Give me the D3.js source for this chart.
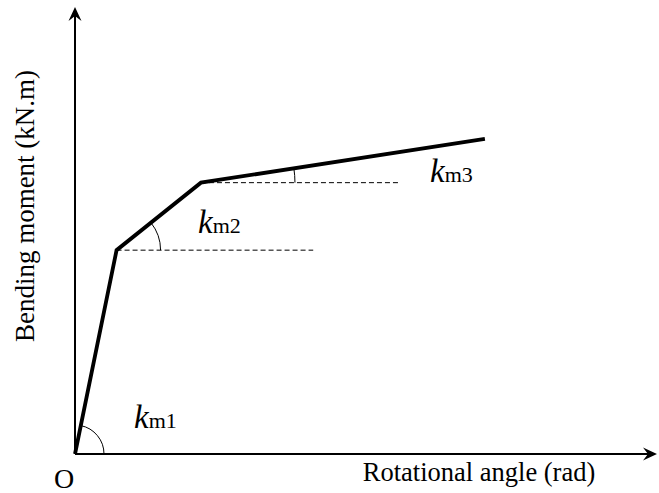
<!DOCTYPE html>
<html><head><meta charset="utf-8">
<script src="https://cdn.jsdelivr.net/npm/d3@7"></script>
<style>body{margin:0;background:#fff}svg{display:block}text{font-family:"Liberation Serif","Times New Roman",Times,"DejaVu Serif",serif;fill:#000}</style>
</head><body><div id="c"></div>
<script>
// Data (arbitrary units)
const curveX = [0, 1.0, 3.03, 9.86];
const curveY = [0, 4.56, 6.07, 7.05];
const dashEndX = [5.73, 7.77]; // horizontal reference lines from knees 1 and 2
const stiffLabels = ["m1", "m2", "m3"];
const xLabel = "Rotational angle (rad)";
const yLabel = "Bending moment (kN.m)";

const W = 659, H = 493;
const x = d3.scaleLinear().domain([0, 14]).range([75, 657]);
const y = d3.scaleLinear().domain([0, 10]).range([454, 7]);

const svg = d3.select("#c").append("svg").attr("width", W).attr("height", H);

function arrow(tip, dir) {
  const L = 14, w = 6.5, n = 5;
  const [tx, ty] = tip, [dx, dy] = dir, px = -dy, py = dx;
  const p = [[tx, ty],
    [tx - dx*L + px*w, ty - dy*L + py*w],
    [tx - dx*(L-n), ty - dy*(L-n)],
    [tx - dx*L - px*w, ty - dy*L - py*w]];
  svg.append("path").attr("d", "M" + p.map(q => q.join(",")).join("L") + "Z").attr("fill", "#000");
}
svg.append("line").attr("x1", x(0)).attr("y1", y(0)).attr("x2", x(0)).attr("y2", y(10) + 6)
  .attr("stroke", "#000").attr("stroke-width", 2);
svg.append("line").attr("x1", x(0)).attr("y1", y(0)).attr("x2", x(14) - 6).attr("y2", y(0))
  .attr("stroke", "#000").attr("stroke-width", 2);
arrow([x(0), y(10)], [0, -1]);
arrow([x(14), y(0)], [1, 0]);

[1, 2].forEach((i, k) => {
  svg.append("line").attr("x1", x(curveX[i])).attr("y1", y(curveY[i]))
    .attr("x2", x(dashEndX[k])).attr("y2", y(curveY[i]))
    .attr("stroke", "#000").attr("stroke-width", 1).attr("stroke-dasharray", "5,3");
});

const radii = [29, 44, 94];
[0, 1, 2].forEach(i => {
  const cx = x(curveX[i]), cy = y(curveY[i]);
  const ex = x(curveX[i+1]), ey = y(curveY[i+1]);
  const ang = Math.atan2(cy - ey, ex - cx);
  const r = radii[i];
  const fx = cx + r*Math.cos(ang), fy = cy - r*Math.sin(ang);
  svg.append("path").attr("d", `M${cx + r},${cy}A${r},${r} 0 0 0 ${fx},${fy}`)
    .attr("fill", "none").attr("stroke", "#000").attr("stroke-width", 1);
});

const line = d3.line().x((d, i) => x(curveX[i])).y((d, i) => y(curveY[i]));
svg.append("path").datum(curveX).attr("d", line).attr("fill", "none")
  .attr("stroke", "#000").attr("stroke-width", 3.8).attr("stroke-linejoin", "miter");

const labPos = [[134, 428], [198, 233], [430, 182]];
stiffLabels.forEach((s, i) => {
  const t = svg.append("text").attr("x", labPos[i][0]).attr("y", labPos[i][1]).attr("font-size", 33);
  t.append("tspan").attr("font-style", "italic").text("k");
  t.append("tspan").attr("font-size", 22).text(s);
});

svg.append("text").attr("x", 64).attr("y", 488).attr("text-anchor", "middle").attr("font-size", 28).text("O");
svg.append("text").attr("x", 479).attr("y", 481).attr("text-anchor", "middle").attr("font-size", 26.5).text(xLabel);
svg.append("text").attr("transform", "translate(34,206) rotate(-90)").attr("text-anchor", "middle")
  .attr("font-size", 27).text(yLabel);
</script></body></html>
